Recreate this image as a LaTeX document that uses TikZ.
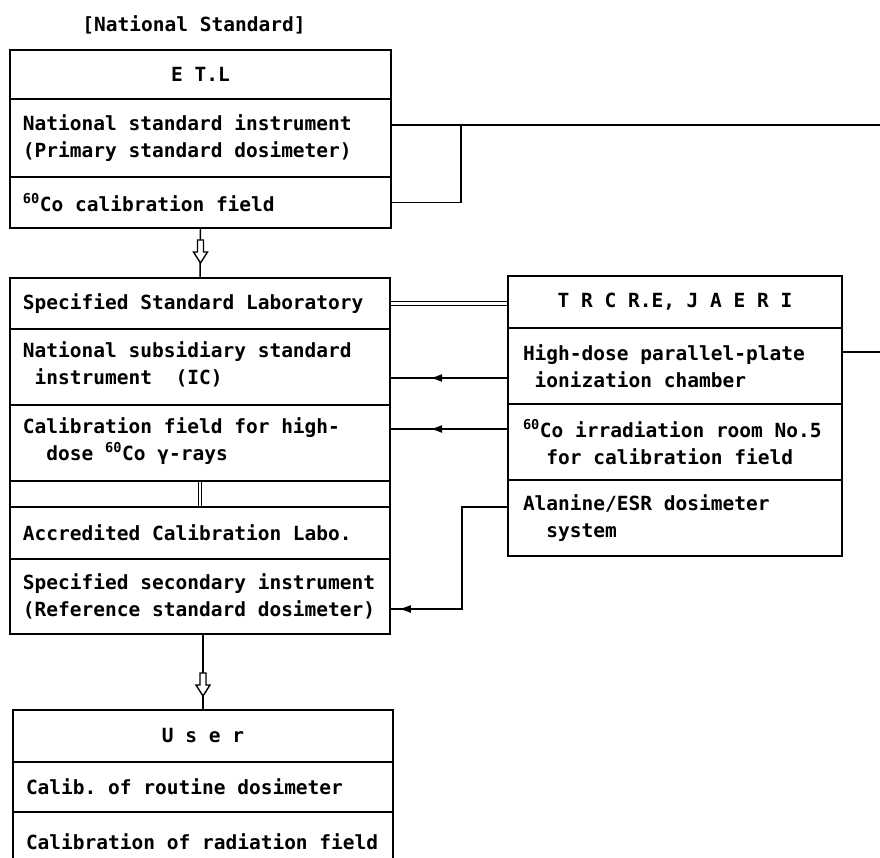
\documentclass[tikz,border=0pt]{standalone}
\usepackage{fontspec}
\newfontfamily\dmono{DejaVu Sans Mono}
\usetikzlibrary{decorations.markings,arrows.meta}
\newcommand\chsp{\hspace*{0.602em}}
\newcommand\sk{\hspace{0.602em}}
\newcommand\monofont{\dmono\bfseries\fontsize{19.5}{27}\selectfont}
\begin{document}
\begin{tikzpicture}[x=1pt,y=-1pt,
  every node/.style={font=\monofont},
  box/.style={draw, line width=1.5pt, rectangle, anchor=north west, inner ysep=0pt, outer sep=0pt},
  etlw/.style={minimum width=381pt, text width=355pt, inner xsep=13pt},
  mainw/.style={minimum width=380pt, text width=354pt, inner xsep=13pt},
  trw/.style={minimum width=334pt, text width=304pt, inner xsep=15pt},
  conn/.style={line width=1.5pt},
  dbl/.style={double, double distance=2.5pt, line width=1.1pt},
  marr/.style={decoration={markings, mark=at position #1 with {\arrow{Latex[length=12pt,width=8pt]}}}, postaction={decorate}},
  hollow/.style={line width=1.4pt, fill=white}
]
\useasboundingbox (0,0) rectangle (880,858);

\node (title) at (194,25) {[National\sk Standard]};

% ETL
\node[box, etlw, align=center, minimum height=49pt] (etlT) at (10,50) {E\sk T.L};
\node[box, etlw, align=left, minimum height=78pt] (etlA) at (10,99) {National\sk standard\sk instrument\\(Primary\sk standard\sk dosimeter)};
\node[box, etlw, align=left, minimum height=51pt] (etlB) at (10,177) {\textsuperscript{60}Co\sk calibration\sk field};

% Specified Standard Laboratory / Accredited
\node[box, mainw, align=left, minimum height=51pt] (ssl) at (10,278) {Specified\sk Standard\sk Laboratory};
\node[box, mainw, align=left, minimum height=76pt, text depth=35pt] (nss) at (10,329) {National\sk subsidiary\sk standard\\\chsp instrument\sk\sk(IC)};
\node[box, mainw, align=left, minimum height=76pt, text depth=35pt] (cf) at (10,405) {Calibration\sk field\sk for\sk high-\\\chsp\chsp dose\sk\textsuperscript{60}Co\sk γ-rays};
\node[box, mainw, minimum height=26pt] (gap) at (10,481) {};
\node[box, mainw, align=left, minimum height=52pt] (acl) at (10,507) {Accredited\sk Calibration\sk Labo.};
\node[box, mainw, align=left, minimum height=75pt] (ssi) at (10,559) {Specified\sk secondary\sk instrument\\(Reference\sk standard\sk dosimeter)};

% User
\node[box, mainw, align=center, minimum height=52pt] (usrT) at (13,710) {U\sk s\sk e\sk r};
\node[box, mainw, align=left, minimum height=50pt] (usrA) at (13,762) {Calib.\sk of\sk routine\sk dosimeter};
\node[box, mainw, align=left, minimum height=60pt] (usrB) at (13,812) {Calibration\sk of\sk radiation\sk field};

% TRCRE
\node[box, trw, align=center, minimum height=52pt] (trT) at (508,276) {T\sk R\sk C\sk R.E,\sk J\sk A\sk E\sk R\sk I};
\node[box, trw, align=left, minimum height=76pt] (trA) at (508,328) {High-dose\sk parallel-plate\\\chsp ionization\sk chamber};
\node[box, trw, align=left, minimum height=76pt] (trB) at (508,404) {\textsuperscript{60}Co\sk irradiation\sk room\sk No.5\\\chsp\chsp for\sk calibration\sk field};
\node[box, trw, align=left, minimum height=76pt] (trC) at (508,480) {Alanine/ESR\sk dosimeter\\\chsp\chsp system};

% ETL connectors to right edge
\coordinate (eA) at ([yshift=13pt]etlA.east);
\coordinate (edgeTop) at (880,125);
\coordinate (jTop) at (461,125);
\draw[conn] (eA) -- (edgeTop);
\draw[conn] (etlB.east) -| (jTop);

% TRCRE right connector
\coordinate (a5) at ([yshift=14pt]trA.east);
\coordinate (edgeMid) at (880,352);
\draw[conn] (a5) -- (edgeMid);

% double links
\draw[dbl, shorten <=0.75pt, shorten >=0.75pt] (ssl.east) -- (ssl.east -| trT.west);
\draw[dbl, shorten <=0.75pt, shorten >=0.75pt] (cf.south) -- (acl.north);

% arrows from TRCRE
\coordinate (a1) at ([yshift=-12pt]trA.west);
\draw[conn, marr=0.66] (a1) -- (a1 -| nss.east);
\coordinate (a2) at ([yshift=13pt]trB.west);
\draw[conn, marr=0.66] (a2) -- (a2 -| cf.east);
\coordinate (a3) at ([yshift=11pt]trC.west);
\coordinate (a4) at ([yshift=-12.5pt]ssi.east);
\draw[conn, marr=0.96] (a3) -- ++(-46,0) |- (a4);

% vertical flows with hollow arrows
\draw[conn] (etlB.south) -- (ssl.north);
\draw[hollow, shift={(200.5,240)}] (-3,0) -- (3,0) -- (3,12) -- (7,12) -- (0,23) -- (-7,12) -- (-3,12) -- cycle;
\draw[conn] (usrT.north |- ssi.south) -- (usrT.north);
\draw[hollow, shift={(203,673)}] (-3,0) -- (3,0) -- (3,12) -- (7,12) -- (0,23) -- (-7,12) -- (-3,12) -- cycle;
\end{tikzpicture}
\end{document}
